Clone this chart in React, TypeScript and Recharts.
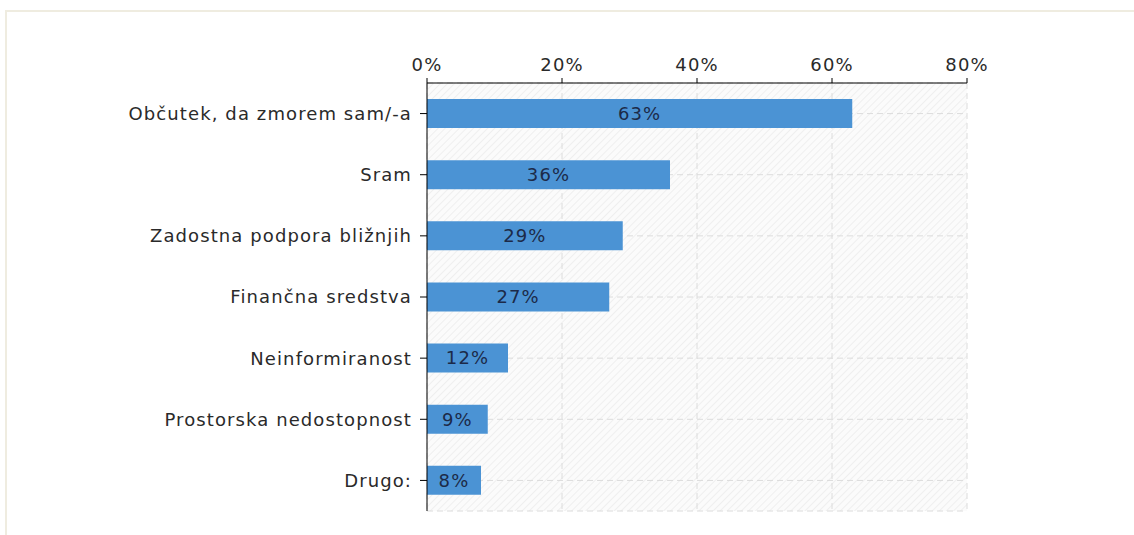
import { BarChart, Bar, XAxis, YAxis, CartesianGrid, LabelList } from 'recharts';

const categories = [
  'Občutek, da zmorem sam/-a',
  'Sram',
  'Zadostna podpora bližnjih',
  'Finančna sredstva',
  'Neinformiranost',
  'Prostorska nedostopnost',
  'Drugo:',
];
const shares = [63, 36, 29, 27, 12, 9, 8];
const xTicks = [0, 20, 40, 60, 80];

const data = categories.map((name, i) => ({ name, value: shares[i] }));

const FONT = '"DejaVu Sans", Verdana, sans-serif';
const textStyle = { fill: '#2a2a2a', fontSize: 18, fontFamily: FONT, letterSpacing: 1.1 };

export default function App() {
  return (
    <div style={{ position: 'absolute', left: 0, top: 0, width: 1134, height: 535, background: '#fff', fontFamily: FONT }}>
      {/* outer frame */}
      <div
        style={{
          position: 'absolute',
          left: 5,
          top: 10,
          right: 0,
          bottom: 0,
          borderTop: '2px solid #efece0',
          borderLeft: '2px solid #efece0',
        }}
      />
      <div style={{ position: 'absolute', left: 0, top: 0 }}>
        <BarChart
          width={1134}
          height={535}
          data={data}
          layout="vertical"
          margin={{ top: 0, right: 167, bottom: 24, left: 0 }}
          barSize={29}
        >
          <defs>
            <pattern id="hatch" patternUnits="userSpaceOnUse" width="5" height="5" patternTransform="rotate(45)">
              <rect width="5" height="5" fill="#fbfbfb" />
              <line x1="0" y1="0" x2="0" y2="5" stroke="#ececec" strokeWidth="1.5" />
            </pattern>
          </defs>
          <CartesianGrid fill="url(#hatch)" stroke="#dcdcdc" strokeDasharray="6 4" />
          <XAxis
            type="number"
            orientation="top"
            domain={[0, 80]}
            ticks={xTicks}
            height={83}
            tickFormatter={(v) => `${v}%`}
            tickSize={5}
            tickMargin={7}
            axisLine={{ stroke: '#000' }}
            tickLine={{ stroke: '#000' }}
            tick={textStyle}
          />
          <XAxis
            xAxisId="bottom"
            type="number"
            orientation="bottom"
            domain={[0, 80]}
            ticks={xTicks}
            height={0}
            tick={false}
            tickLine={false}
            axisLine={{ stroke: '#d0d0d0', strokeDasharray: '2 2' }}
          />
          <YAxis
            type="category"
            dataKey="name"
            width={427}
            tickSize={7}
            tickMargin={8}
            axisLine={{ stroke: '#000' }}
            tickLine={{ stroke: '#000' }}
            tick={textStyle}
          />
          <Bar dataKey="value" fill="#4b93d4" isAnimationActive={false}>
            <LabelList
              dataKey="value"
              position="center"
              formatter={(v: any) => `${v}%`}
              style={{ fill: '#1c2a48', fontSize: 18, fontFamily: FONT, letterSpacing: 1.1 }}
            />
          </Bar>
        </BarChart>
      </div>
    </div>
  );
}
